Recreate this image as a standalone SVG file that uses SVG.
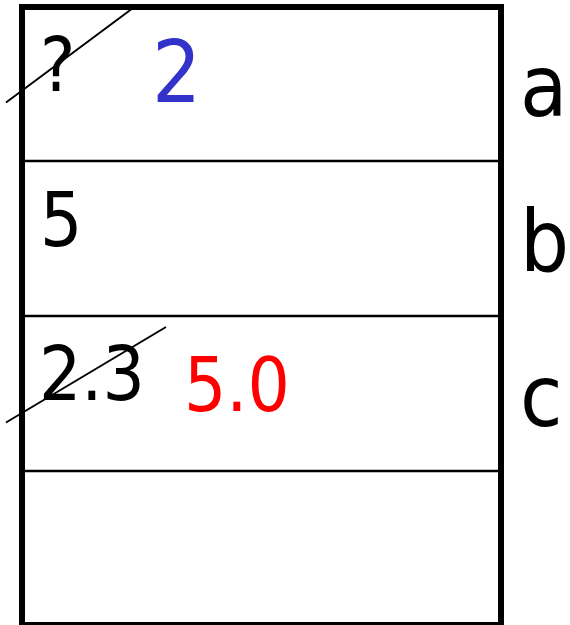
<svg xmlns="http://www.w3.org/2000/svg" width="570" height="625" viewBox="0 0 570 625">
<style>
.t{font-family:"DejaVu Sans Condensed","DejaVu Sans",Verdana,sans-serif;font-stretch:condensed;}
.d{font-size:74px;fill:#000;}
.l{font-size:86px;fill:#000;}
.div{stroke:#000;stroke-width:2.5;}
.x{stroke:#000;stroke-width:2;}
</style>
<rect width="570" height="625" fill="#fff"/>
<g id="frame">
<rect x="22" y="7" width="479" height="618" fill="none" stroke="#000" stroke-width="6"/>
</g>
<g id="dividers">
<line class="div" x1="22" y1="161" x2="501" y2="161"/>
<line class="div" x1="22" y1="316" x2="501" y2="316"/>
<line class="div" x1="22" y1="471" x2="501" y2="471"/>
</g>
<g id="cell-a">
<text class="t d" x="40" y="91">?</text>
<text class="t" x="152" y="102" font-size="86" fill="#3333CC">2</text>
<text class="t l" x="520" y="116">a</text>
</g>
<g id="cell-b">
<text class="t d" x="40" y="246">5</text>
<text class="t l" x="520" y="271">b</text>
</g>
<g id="cell-c">
<text class="t d" x="39" y="400">2.3</text>
<text class="t" x="184" y="411" font-size="74" fill="#FF0000">5.0</text>
<text class="t l" x="520" y="426">c</text>
</g>
<g id="connectors">
<line class="x" x1="6" y1="102.5" x2="131" y2="9.5"/>
<line class="x" x1="6" y1="422.5" x2="166" y2="327"/>
</g>
</svg>
